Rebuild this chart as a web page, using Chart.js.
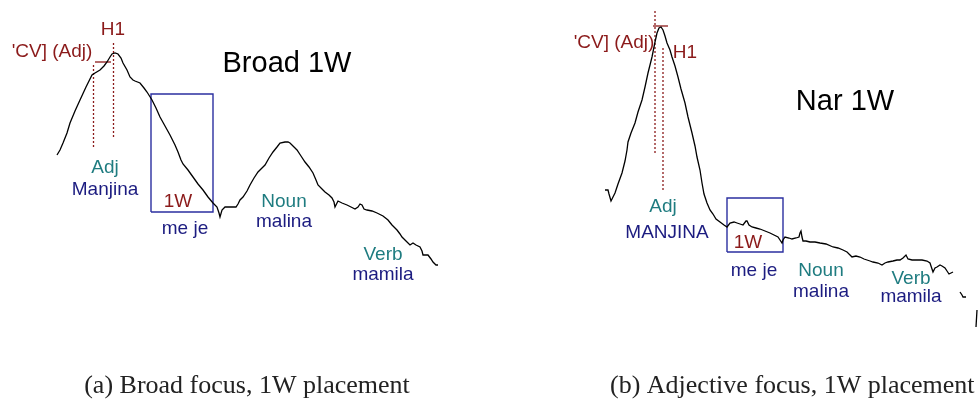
<!DOCTYPE html>
<html>
<head>
<meta charset="utf-8">
<script src="https://cdn.jsdelivr.net/npm/chart.js@4/dist/chart.umd.min.js"></script>
<style>
  html, body { margin: 0; padding: 0; background: #fff; }
  #wrap { width: 979px; height: 403px; }
</style>
</head>
<body>
<div id="wrap"><canvas id="f0chart" width="979" height="403"></canvas></div>
<script>
// 1. DATOS (tiempo / F0)
const timeA = [57,60,63,67,70,75,80,86,92,95,100,104,107,110,112,115,118,121,123,127,130,133,135,140,144,147,152,156,160,165,170,175,178,181,183,188,193,198,203,208,213,217,219,220,222,225,230,236,238,240,243,247,250,254,258,262,265,269,273,277,280,285,288,290,294,297,301,305,309,313,316,318,322,325,329,332,334,335,337,338,342,347,351,355,358,360,362,364,367,372,377,383,388,392,397,400,402,406,410,413,416,420,422,423,428,431,433,436,438];
const f0A   = [248,253,260,270,280,292,303,316,328,330,333,337,341,346,349,350,349,345,340,333,326,323,322,320,315,311,303,295,286,277,268,258,251,243,239,233,226,219,213,206,200,196,190,186,193,196,196,196,199,203,206,212,218,225,231,235,238,245,251,256,260,261,261,260,256,253,247,241,236,230,223,218,214,211,208,205,201,196,200,202,200,198,196,194,196,199,198,194,193,192,190,187,183,178,173,169,166,162,158,160,158,156,152,148,148,144,141,138,138];

const timeB = [605,608,609,611,613,615,618,622,625,627,628,631,635,638,642,645,648,650,652,655,657,659,661,663,665,667,670,672,675,678,681,685,688,692,695,697,700,702,704,707,710,713,716,720,724,727,730,734,737,740,743,746,747,749,752,756,760,765,770,774,778,780,782,783,785,789,792,796,799,800,801,802,803,806,810,815,820,826,833,838,843,847,850,852,856,860,864,867,870,873,878,882,885,888,893,897,900,903,906,908,912,917,922,927,930,931,933,935,937,940,942,945,947,949,951,953,954,960,962,963,966,970,977,976];
const f0B   = [213,213,209,202,206,210,219,230,242,253,261,270,280,291,303,316,330,338,346,361,370,375,376,373,367,360,353,346,337,326,314,300,286,270,257,246,233,220,209,200,193,189,184,181,178,176,180,181,180,179,178,182,182,178,176,175,174,172,170,168,166,163,160,163,166,165,164,165,166,170,172,166,162,162,161,161,160,159,156,155,153,151,148,146,147,146,144,143,142,141,140,138,140,141,142,143,143,145,148,144,143,143,143,142,140,137,131,135,136,138,137,135,132,129,130,131,null,111,108,106,106,null,93,76];

// ventanas "1W" (inicio, fin, F0 bajo, F0 alto)
const windowA = [151, 213, 191, 309];
const windowB = [727, 783, 151, 205];

// marcas H1 y 'CV] : [tiempo, F0 desde, F0 hasta]
const cvMarkA = [93.5, 256, 340];
const h1MarkA = [113.5, 266, 361];
const cvMarkB = [655, 250, 393];
const h1MarkB = [663, 213, 356];
const peakTickA = [95, 111, 341];
const peakTickB = [653, 668, 377];

// textos
const wordsA = ["'CV] (Adj)", "H1", "Broad 1W", "Adj", "Manjina", "1W", "me je", "Noun", "malina", "Verb", "mamila"];
const wordsB = ["'CV] (Adj)", "H1", "Nar 1W", "Adj", "MANJINA", "1W", "me je", "Noun", "malina", "Verb", "mamila"];
const captions = ["(a) Broad focus, 1W placement", "(b) Adjective focus, 1W placement"];

// 2. ESTILOS
const RED = '#8b1a1a', TEAL = '#1f7c80', NAVY = '#1c1c80', BOX = '#2b2fa0';
const SANS = '"Liberation Sans", Arial, sans-serif';
const wordStyle = [
    { c: RED,    s: 19 }, { c: RED, s: 19 }, { c: '#000', s: 29 },
    { c: TEAL,   s: 19 }, { c: NAVY, s: 19 }, { c: RED, s: 19 },
    { c: NAVY,   s: 19 }, { c: TEAL, s: 19 }, { c: NAVY, s: 19 },
    { c: TEAL,   s: 19 }, { c: NAVY, s: 19 }
];
const wordPosA = [[52,351],[113,373],[287,339],[105,235],[105,213],[178,201],[185,174],[284,201],[284,181],[383,148],[383,128]];
const wordPosB = [[614,360],[685,350],[845,301],[663,196],[667,170],[748,160],[754,132],[821,132],[821,111],[911,124],[911,106]];

// 3. CONSTRUCCIÓN DE DATASETS
const toPts = (xs, ys) => xs.map((x, i) => ({ x: x, y: ys[i] }));
const boxPts = w => [{x:w[0],y:w[2]},{x:w[1],y:w[2]},{x:w[1],y:w[3]},{x:w[0],y:w[3]},{x:w[0],y:w[2]}];
const vPts = m => [{x:m[0],y:m[1]},{x:m[0],y:m[2]}];
const hPts = m => [{x:m[0],y:m[2]},{x:m[1],y:m[2]}];

function ds(data, color, width, dash) {
    return {
        data: data, borderColor: color, borderWidth: width,
        borderDash: dash || [], pointRadius: 0, tension: 0,
        spanGaps: false, fill: false
    };
}

const datasets = [
    ds(toPts(timeA, f0A), '#000', 1.3),
    ds(toPts(timeB, f0B), '#000', 1.3),
    ds(boxPts(windowA), BOX, 1.4),
    ds(boxPts(windowB), BOX, 1.4),
    ds(vPts(cvMarkA), RED, 1.3, [2, 2]),
    ds(vPts(h1MarkA), RED, 1.3, [2, 2]),
    ds(vPts(cvMarkB), RED, 1.3, [2, 2]),
    ds(vPts(h1MarkB), RED, 1.3, [2, 2]),
    ds(hPts(peakTickA), RED, 1.3),
    ds(hPts(peakTickB), RED, 1.3)
];

// 4. PLUGIN DE TEXTOS
const labelPlugin = {
    id: 'labels',
    afterDraw(chart) {
        const ctx = chart.ctx, xs = chart.scales.x, ys = chart.scales.y;
        ctx.save();
        ctx.textAlign = 'center';
        ctx.textBaseline = 'middle';
        const put = (words, pos) => words.forEach((w, i) => {
            ctx.fillStyle = wordStyle[i].c;
            ctx.font = wordStyle[i].s + 'px ' + SANS;
            ctx.fillText(w, xs.getPixelForValue(pos[i][0]), ys.getPixelForValue(pos[i][1]));
        });
        put(wordsA, wordPosA);
        put(wordsB, wordPosB);

        ctx.fillStyle = '#222';
        ctx.font = '26px "Liberation Serif", "Times New Roman", serif';
        ctx.fillText(captions[0], xs.getPixelForValue(247), ys.getPixelForValue(17));
        ctx.textAlign = 'left';
        ctx.fillText(captions[1], xs.getPixelForValue(610), ys.getPixelForValue(17));
        ctx.restore();
    }
};

// 5. GRÁFICO
new Chart(document.getElementById('f0chart').getContext('2d'), {
    type: 'line',
    data: { datasets: datasets },
    options: {
        responsive: false,
        animation: false,
        layout: { padding: 0 },
        plugins: { legend: { display: false }, tooltip: { enabled: false } },
        scales: {
            x: { type: 'linear', min: 0, max: 979, display: false },
            y: { type: 'linear', min: 0, max: 403, display: false }
        }
    },
    plugins: [labelPlugin]
});
</script>
</body>
</html>
